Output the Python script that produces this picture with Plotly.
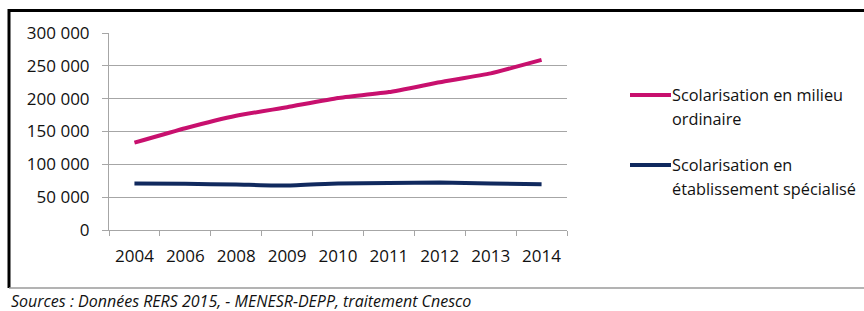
import plotly.graph_objects as go

years = ["2004", "2006", "2008", "2009", "2010", "2011", "2012", "2013", "2014"]
milieu_ordinaire = [133000, 155000, 174000, 187000, 201000, 210000, 225000, 238500, 259000]
etab_specialise = [70700, 70400, 69200, 67600, 71000, 71600, 72300, 71000, 69800]
name_ordinaire = ["Scolarisation en milieu", "ordinaire"]
name_specialise = ["Scolarisation en", "établissement spécialisé"]
source_text = "Sources : Données RERS 2015, - MENESR-DEPP, traitement Cnesco"
y_ticks = [0, 50000, 100000, 150000, 200000, 250000, 300000]

FONT = "Open Sans"
PINK = "#C8106E"
NAVY = "#10295E"
GRID = "#A6A6A6"
TXT = "#111111"

fig = go.Figure()
fig.add_trace(go.Scatter(
    x=years, y=milieu_ordinaire, mode="lines", name=" ".join(name_ordinaire),
    line=dict(color=PINK, width=4, shape="spline", smoothing=0.4),
))
fig.add_trace(go.Scatter(
    x=years, y=etab_specialise, mode="lines", name=" ".join(name_specialise),
    line=dict(color=NAVY, width=4, shape="spline", smoothing=0.4),
))

L, R, T, B = 109, 864 - 567, 33, 311 - 230
W, H = 864 - L - R, 311 - T - B

def px_x(p):
    return (p - L) / W

def px_y(p):
    return (311 - B - p) / H

shapes = [
    dict(type="line", xref="paper", yref="paper",
         x0=px_x(9), x1=px_x(870), y0=px_y(10.5), y1=px_y(10.5),
         line=dict(color="black", width=3)),
    dict(type="line", xref="paper", yref="paper",
         x0=px_x(9), x1=px_x(9), y0=px_y(9), y1=px_y(288),
         line=dict(color="black", width=3)),
    dict(type="line", xref="paper", yref="paper",
         x0=px_x(9), x1=px_x(870), y0=px_y(288), y1=px_y(288),
         line=dict(color="#9A9A9A", width=1.5)),
]
annotations = [
    dict(text="<i>" + source_text + "</i>", xref="paper", yref="paper",
         x=px_x(9), y=px_y(301), xanchor="left", yanchor="middle",
         showarrow=False, font=dict(family=FONT, size=16, color=TXT)),
]

# manual legend (key line + wrapped label)
legend_entries = [(name_ordinaire, PINK, 95), (name_specialise, NAVY, 165)]
for lines, color, ytop in legend_entries:
    shapes.append(dict(type="line", xref="paper", yref="paper",
                       x0=px_x(630), x1=px_x(671), y0=px_y(ytop), y1=px_y(ytop),
                       line=dict(color=color, width=4)))
    for i, line in enumerate(lines):
        annotations.append(dict(text=line, xref="paper", yref="paper",
                                x=px_x(670), y=px_y(ytop + 24 * i),
                                xanchor="left", yanchor="middle", showarrow=False,
                                font=dict(family=FONT, size=16.3, color=TXT)))

fig.update_layout(
    width=864, height=311,
    margin=dict(l=L, r=R, t=T, b=B, pad=0),
    paper_bgcolor="white", plot_bgcolor="white",
    font=dict(family=FONT, size=17, color=TXT),
    separators=", ",
    showlegend=False,
    xaxis=dict(
        type="category", range=[-0.5, 8.5], showgrid=False,
        showline=True, linecolor=GRID, linewidth=1,
        ticks="outside", tickson="boundaries", ticklen=5, tickcolor=GRID,
        tickfont=dict(family=FONT, size=17, color=TXT),
        ticklabelstandoff=11,
    ),
    yaxis=dict(
        range=[0, 300000], tickvals=y_ticks, tickformat=",d",
        showgrid=True, gridcolor=GRID, gridwidth=1,
        showline=True, linecolor=GRID, linewidth=1,
        ticks="outside", ticklen=6, tickcolor=GRID,
        tickfont=dict(family=FONT, size=17, color=TXT),
        ticklabelstandoff=9, zeroline=False,
    ),
    shapes=shapes,
    annotations=annotations,
)

fig.write_html(
    "out.html",
    config={"displayModeBar": False},
    post_script="document.body.style.margin='0';document.body.style.overflow='hidden';",
)
